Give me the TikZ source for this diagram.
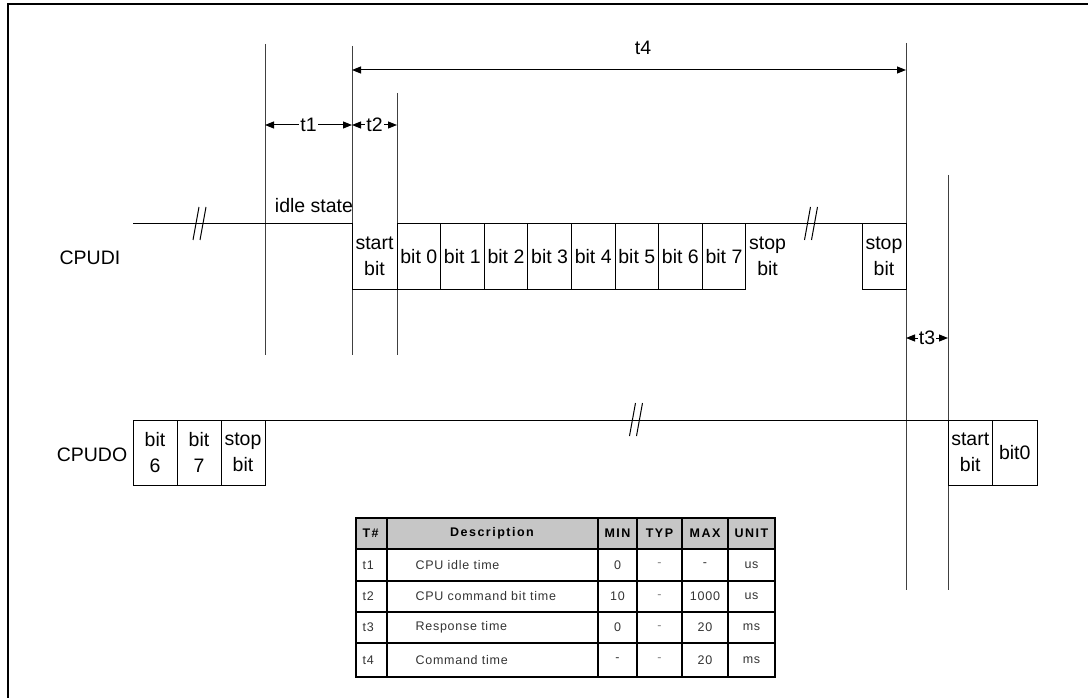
\documentclass[tikz,border=0pt]{standalone}
\usepackage{fontspec}
\setmainfont{Liberation Sans}
\newfontfamily\tabfont[LetterSpace=6]{Liberation Sans}
\newfontfamily\tabhfont[LetterSpace=12]{Liberation Sans}
\usetikzlibrary{positioning,arrows.meta}

\tikzset{
  sig/.style={line width=1pt},
  guide/.style={line width=1pt, black!75},
  bitbox/.style={draw, line width=1pt, minimum width=43.6pt, minimum height=65pt,
    inner sep=0pt, outer sep=0pt, align=center},
  dim/.style={line width=1pt, {Triangle[length=9pt,width=7pt]}-{Triangle[length=9pt,width=7pt]}},
  lbl/.style={fill=white, inner sep=1pt},
  brk/.pic={\draw[line width=1pt] (-6.5,16) -- (-0.5,-17) (0.5,16) -- (6.5,-17);},
  grid/.style={line width=2pt},
  thead/.style={font=\tabhfont\bfseries\fontsize{12.5}{14}\selectfont},
  tcell/.style={font=\tabfont\fontsize{12.5}{14}\selectfont, text=black!80}
}

\begin{document}
\begin{tikzpicture}[x=1pt,y=-1pt,font=\fontsize{19.5}{26}\selectfont]
  \useasboundingbox (0,0) rectangle (1088,698);
  \draw[line width=2pt] (8,698) -- (8,4) -- (1088,4);

  % timing edges
  \coordinate (e1) at (265,44);
  \coordinate (e2) at (352,46);
  \coordinate (e3) at (397,93);
  \coordinate (e4) at (906,43);
  \coordinate (e5) at (948,175);
  \draw[guide] (e1) -- (e1 |- 0,355);
  \draw[guide] (e2) -- (e2 |- 0,355);
  \draw[guide] (e3) -- (e3 |- 0,355);
  \draw[guide] (e4) -- (e4 |- 0,590);
  \draw[guide] (e5) -- (e5 |- 0,590);

  \draw[dim] (e1 |- 0,125) -- node[lbl] {t1} (e2 |- 0,125);
  \draw[dim] (e2 |- 0,125) -- node[lbl] {t2} (e3 |- 0,125);
  \draw[dim] (e2 |- 0,70) -- (e4 |- 0,70);
  \node (t4) at (643,48) {t4};
  \draw[dim] (e4 |- 0,338) -- node[lbl] {t3} (e5 |- 0,338);

  % CPUDI
  \node (cpudi) at (90,258) {CPUDI};
  \node[anchor=base] (idle) at (314,213) {idle state};
  \coordinate (di) at (133,224);
  \node[bitbox, anchor=north west] (b0) at (397,224) {bit 0};
  \foreach \i [remember=\i as \j (initially 0)] in {1,...,7}
    \node[bitbox, right=0pt of b\j] (b\i) {bit \i};
  \node[bitbox, draw=none, minimum width=45pt, left=0pt of b0] (sb) {start\\bit};
  \node[bitbox, draw=none, right=0pt of b7] (s7) {stop\\bit};
  \node[bitbox, minimum width=44pt, anchor=north east] (sp) at (906,224) {stop\\bit};
  \draw[sig] (di) -- (sb.north west) -- (sb.south west) -- (sb.south east) -- (b0.south west);
  \draw[sig] (b7.north east) -- (sp.north west);
  \pic at (199.5,224) {brk};
  \pic at (811,224) {brk};

  % CPUDO
  \node (cpudo) at (92,455) {CPUDO};
  \node[bitbox, minimum width=44pt, anchor=north west] (o6) at (133,420) {bit\\6};
  \node[bitbox, minimum width=44pt, right=0pt of o6] (o7) {bit\\7};
  \node[bitbox, minimum width=44pt, right=0pt of o7] (os) {stop\\bit};
  \node[bitbox, minimum width=44.5pt, anchor=north west] (ot) at (948,420) {start\\bit};
  \node[bitbox, minimum width=44.5pt, right=0pt of ot] (o0) {bit0};
  \draw[sig] (os.north east) -- (ot.north west);
  \pic at (636,420) {brk};

  % timing table
  \fill[gray!45] (356,518) rectangle (775,549);
  \draw[grid] (356,518) rectangle (775,677);
  \foreach \y in {549,581,612,643} \draw[grid] (356,\y) -- (775,\y);
  \foreach \x in {387,598,637,682,728} \draw[grid] (\x,518) -- (\x,677);
  \node[thead, anchor=west] (hT) at (359,533.5) {T\#};
  \node[thead] (hD) at (492,533.5) {Description};
  \node[thead] (hMin) at (617.5,533.5) {MIN};
  \node[thead] (hTyp) at (659.5,533.5) {TYP};
  \node[thead] (hMax) at (705,533.5) {MAX};
  \node[thead] (hU) at (751.5,533.5) {UNIT};
  \foreach \y/\n/\d/\mn/\ty/\mx/\u in {565/t1/CPU idle time/0/-/-/us,
      596.5/t2/CPU command bit time/10/-/1000/us,
      627.5/t3/Response time/0/-/20/ms,
      660/t4/Command time/-/-/20/ms} {
    \node[tcell, anchor=west] (n\n) at (359,\y) {\n};
    \node[tcell, anchor=west] (d\n) at (412,\y) {\d};
    \node[tcell] (mn\n) at (617.5,\y) {\mn};
    \node[tcell, text=black!50] (ty\n) at (659.5,\y) {\ty};
    \node[tcell] (mx\n) at (705,\y) {\mx};
    \node[tcell] (u\n) at (751.5,\y) {\u};
  }
\end{tikzpicture}
\end{document}
